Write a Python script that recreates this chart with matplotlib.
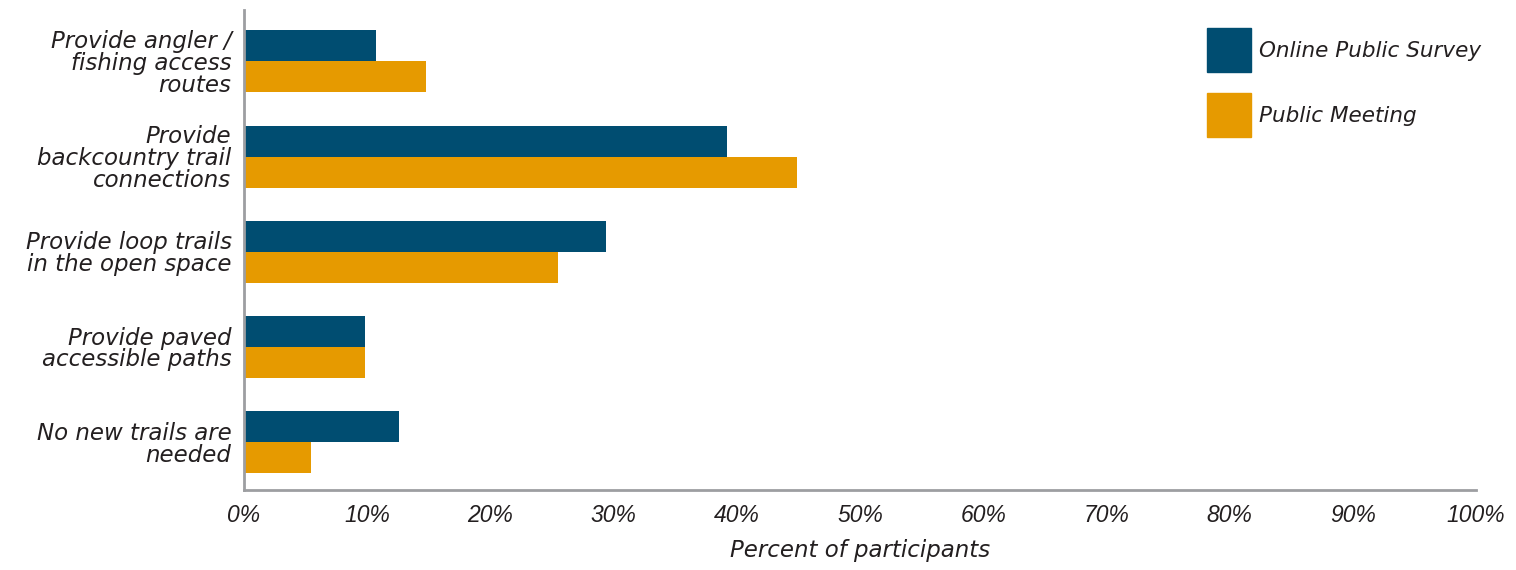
import matplotlib.pyplot as plt
from matplotlib.patches import Patch
import numpy as np

categories = [
    "Provide angler /\nfishing access\nroutes",
    "Provide\nbackcountry trail\nconnections",
    "Provide loop trails\nin the open space",
    "Provide paved\naccessible paths",
    "No new trails are\nneeded",
]
online = [10.7, 39.2, 29.4, 9.8, 12.6]
meeting = [14.8, 44.9, 25.5, 9.8, 5.4]
series_names = ["Online Public Survey", "Public Meeting"]
xticks = list(range(0, 101, 10))
xticklabels = [f"{t}%" for t in xticks]

navy = "#004d71"
orange = "#e69a00"
grey = "#9d9ea1"
text_col = "#231f20"

plt.rcParams["font.family"] = ["DejaVu Sans"]
plt.rcParams["font.style"] = "italic"

fig = plt.figure(figsize=(15.16, 5.70), dpi=100)
ax = fig.add_axes([244 / 1516, 80 / 570, 1232 / 1516, 480 / 570])

y = np.arange(len(categories))
h = 0.325
ax.barh(y - h / 2, online, height=h, color=navy)
ax.barh(y + h / 2, meeting, height=h, color=orange)

ax.set_xlim(0, 100)
ax.set_ylim(4.5, -0.54)
ax.set_yticks(y)
ax.set_yticklabels(categories, fontsize=16.5, color=text_col, linespacing=0.93)
ax.set_xticks(xticks)
ax.set_xticklabels(xticklabels, fontsize=16.5, color=text_col,
                   family=["Liberation Sans", "DejaVu Sans"])
ax.tick_params(axis="both", length=0)
ax.tick_params(axis="y", pad=9)
ax.tick_params(axis="x", pad=10)
ax.set_xlabel("Percent of participants", fontsize=16.5, color=text_col, labelpad=9)

for s in ["top", "right"]:
    ax.spines[s].set_visible(False)
for s in ["left", "bottom"]:
    ax.spines[s].set_color(grey)
    ax.spines[s].set_linewidth(2)

handles = [Patch(color=navy), Patch(color=orange)]
fig.legend(handles, series_names, loc="upper left",
           bbox_to_anchor=(1207 / 1516, 1 - 28 / 570), bbox_transform=fig.transFigure,
           frameon=False, fontsize=15.5, handlelength=2.05, handleheight=2.78,
           handletextpad=0.37, labelspacing=0.98, borderpad=0, borderaxespad=0,
           labelcolor=text_col)

fig.savefig("out.png", dpi=100)
